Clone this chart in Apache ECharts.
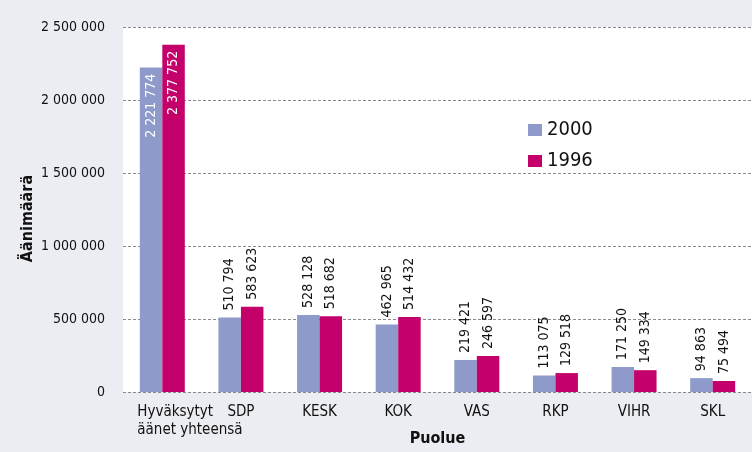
<!DOCTYPE html>
<html lang="fi">
<head>
<meta charset="UTF-8">
<title>Äänimäärä puolueittain</title>
<script src="https://cdn.jsdelivr.net/npm/echarts@6/dist/echarts.min.js"></script>
<style>
  html, body { margin: 0; padding: 0; background: #ecedf3; }
</style>
</head>
<body>
<div id="main" style="width: 752px; height: 452px;"></div>
<script type="text/javascript">
// puolueet ja äänimäärät
var categories = ['Hyväksytyt\näänet yhteensä', 'SDP', 'KESK', 'KOK', 'VAS', 'RKP', 'VIHR', 'SKL'];
var votes2000 = [2221774, 510794, 528128, 462965, 219421, 113075, 171250, 94863];
var votes1996 = [2377752, 583623, 518682, 514432, 246597, 129518, 149334, 75494];
var yTicks = [0, 500000, 1000000, 1500000, 2000000, 2500000];

var FONT = "'Liberation Sans Narrow', 'DejaVu Sans Condensed', sans-serif";

// 2 221 774 -muoto
function fmt(v) {
	return String(v).replace(/\B(?=(\d{3})+(?!\d))/g, ' ');
}

// ensimmäinen pylväs: arvo valkoisena pylvään sisällä
function toData(arr) {
	return arr.map(function (v, i) {
		if (i === 0) {
			return { value: v, label: { position: 'insideTop', align: 'right', color: '#fff', distance: 6 } };
		}
		return v;
	});
}

var valueLabel = {
	show: true,
	position: 'top',
	rotate: 90,
	align: 'left',
	verticalAlign: 'middle',
	distance: 7,
	color: '#111',
	fontFamily: FONT,
	fontSize: 14,
	formatter: function (p) { return fmt(p.value); }
};

var myChart = echarts.init(document.getElementById('main'));
var option = {
	backgroundColor: '#ecedf3',
	animation: false,
	grid: {
		left: 123, right: 0, top: 27, bottom: 60,
		outerBoundsMode: 'none',
		containLabel: false,
		show: true, backgroundColor: '#fff', borderWidth: 0
	},
	legend: {
		orient: 'vertical',
		left: 523, top: 115,
		itemWidth: 14, itemHeight: 12, itemGap: 11,
		icon: 'rect',
		textStyle: { fontFamily: FONT, fontSize: 20, color: '#111' },
		data: ['2000', '1996']
	},
	xAxis: {
		type: 'category',
		data: categories.map(function (c, i) {
			if (i === 0) return { value: c, textStyle: { align: 'left', padding: [0, 0, 0, -25] } };
			return c;
		}),
		name: 'Puolue',
		nameLocation: 'middle',
		nameGap: 39,
		nameMoveOverlap: false,
		nameTextStyle: { fontFamily: FONT, fontSize: 16, fontWeight: 'bold', color: '#111' },
		axisLine: { show: false },
		axisTick: { show: false },
		axisLabel: {
			interval: 0, margin: 11,
			fontFamily: FONT, fontSize: 15, lineHeight: 18, color: '#111'
		}
	},
	yAxis: {
		type: 'value',
		min: yTicks[0], max: yTicks[yTicks.length - 1], interval: yTicks[1] - yTicks[0],
		name: 'Äänimäärä',
		nameLocation: 'middle',
		nameGap: 87,
		nameMoveOverlap: false,
		nameTextStyle: { fontFamily: FONT, fontSize: 16, fontWeight: 'bold', color: '#111', padding: [0, 18, 0, 0] },
		axisLine: { show: false },
		axisTick: { show: false },
		axisLabel: {
			margin: 18, fontFamily: FONT, fontSize: 14, color: '#111',
			formatter: function (v) { return fmt(v); }
		},
		splitLine: { lineStyle: { color: '#8a8a8a', type: [3, 2], width: 1 } }
	},
	series: [{
		name: '2000',
		type: 'bar',
		data: toData(votes2000),
		barWidth: '28.6%',
		barGap: '0%',
		itemStyle: { color: '#8e9bca' },
		label: valueLabel
	}, {
		name: '1996',
		type: 'bar',
		data: toData(votes1996),
		barWidth: '28.6%',
		barGap: '0%',
		itemStyle: { color: '#c4006a' },
		label: valueLabel
	}]
};
myChart.setOption(option);
</script>
</body>
</html>
